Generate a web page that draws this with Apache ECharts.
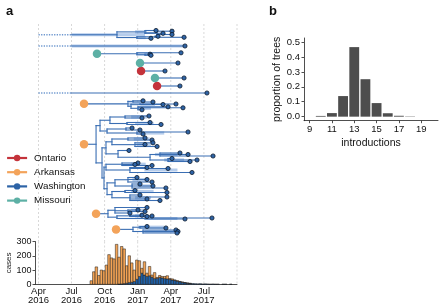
<!DOCTYPE html>
<html><head><meta charset="utf-8">
<script src="https://cdn.jsdelivr.net/npm/echarts@6/dist/echarts.min.js"></script>
<style>html,body{margin:0;padding:0;background:#fff}#c{width:440px;height:304px}</style>
</head><body><div id="c"></div><script>
// ===================== DATA =====================
// time ticks (decimal years) for panel a
const tickYears = [2016.25, 2016.5, 2016.75, 2017.0, 2017.25, 2017.5, 2017.75];
const tickLabels = ['Apr\n2016', 'Jul\n2016', 'Oct\n2016', 'Jan\n2017', 'Apr\n2017', 'Jul\n2017', ''];

// weekly case counts (first week starts on caseWeekStart)
const caseWeekStart = '2016-08-22';
const arkansasCases = [25,88,122,62,100,95,135,208,185,178,280,188,262,243,122,188,135,80,135,110,
  34,93,23,65,15,42,6,14,10,15,22,5,8,2,3,2,2,1,1,1,0,0,0,0,0,0,0,0,0,0,0,0,0,0,0,0,0,0];
const washingtonCases = [0,0,0,0,0,0,0,0,0,0,0,2,3,5,8,12,15,20,35,55,
  78,65,55,60,50,40,42,48,45,40,38,35,30,28,22,18,14,11,8,6,5,4,3,4,2,3,2,1,2,1,1,0,1,1,0,1,0,0];
const caseTicks = [0, 100, 200, 300];

// locations (legend order)
const locations = ['Ontario', 'Arkansas', 'Washington', 'Missouri'];

// phylogeny: tip = [date, row]; internal = [date, [children], hpdLow, hpdHigh]
// each clade: introduction date (intro) or unsampled ancestry (unsampled), optional stem band
const clades = [
  {loc:'Washington', unsampled:[2016.25, 2016.5], band:[2016.5, 2016.843], tree:
    [2016.843, [
      [2017.055, [[2017.138, 30.5], [2017.146, [[2017.259, 31.2], [2017.259, 34.5]]], [2017.191, 33.3]], 2016.98, 2017.07],
      [2016.994, [[2017.100, 38.3], [2017.130, [[2017.153, 36.3], [2017.350, 37.3]]]], 2016.99, 2017.06]
    ], 2016.843, 2017.055]},
  {loc:'Washington', unsampled:[2016.25, 2016.5], band:[2016.5, 2017.357], tree:[2017.357, 46]},
  {loc:'Missouri', intro:2016.692, tree:
    [2016.994, [[2017.327, 52.8], [2017.055, [[2017.093, 54.2], [2017.100, 55.3]]]], 2016.99, 2017.10]},
  {loc:'Missouri', intro:2017.017, tree:[2017.304, 63]},
  {loc:'Ontario', intro:2017.025, tree:[2017.206, 71]},
  {loc:'Missouri', intro:2017.130, tree:[2017.350, 78]},
  {loc:'Ontario', intro:2017.146, tree:[2017.319, 86]},
  {loc:'Washington', unsampled:[2016.25, 2016.5], tree:[2017.523, 93]},
  {loc:'Arkansas', intro:2016.594, tree:
    [2016.926, [
      [2016.964, [[2017.040, 100.8], [2017.115, 102]]],
      [2016.949, [
        [2017.017, [[2017.191, 104.5], [2017.289, 104]], 2017.02, 2017.13],
        [2017.002, [[2017.229, 106.8], [2017.342, 107.8], [2017.032, 109.8]], 2017.00, 2017.10]
      ]]
    ], 2016.93, 2017.02]},
  {loc:'Arkansas', intro:2016.594, tree:
    [2016.685, [
      [2016.715, [
        [2016.790, [
          [2016.904, [[2017.085, 116], [2017.032, 118]], 2016.95, 2017.07],
          [2016.919, [[2017.176, 124.5], [2017.093, 122.5]], 2016.98, 2017.12]
        ]],
        [2016.768, [
          [2016.911, [[2016.957, 128], [2017.017, 130]]],
          [2016.994, [[2017.380, 132], [2017.040, 134]], 2017.00, 2017.20]
        ]]
      ]],
      [2016.730, [
        [2016.760, [
          [2016.805, [
            [2016.926, [[2017.108, 140], [2017.055, 138]], 2016.97, 2017.09],
            [2016.979, [[2017.115, 142.8], [2017.146, 146.5], [2017.055, 144.5]], 2016.99, 2017.10]
          ]],
          [2016.851, [[2016.934, 150.5],
            [2017.093, [
              [2017.168, [[2017.319, 153], [2017.380, 154.5], [2017.569, 156]], 2017.13, 2017.30],
              [2017.229, [[2017.259, 158.5], [2017.448, 160], [2017.395, 161.5]], 2017.20, 2017.35]
            ]]
          ]]
        ]],
        [2016.745, [
          [2016.760, [
            [2016.881, [[2017.002, 163], [2016.979, 164.5], [2017.108, 165.5]], 2016.95, 2017.06],
            [2016.941, [[2017.070, 167.5], [2017.229, 168.5], [2017.410, 172.5]], 2017.05, 2017.30]
          ]],
          [2016.768, [
            [2016.828, [
              [2016.926, [[2016.994, 177.5], [2017.070, 179.5], [2017.108, 182]], 2016.96, 2017.08],
              [2016.957, [[2017.017, 184], [2017.115, 186], [2017.213, 188]], 2017.00, 2017.10]
            ]],
            [2016.805, [
              [2016.904, [[2016.979, 190.5], [2017.221, 192.5]], 2016.95, 2017.12],
              [2016.941, [[2017.017, 195], [2017.221, 197], [2017.070, 199], [2017.168, 200.5]], 2016.98, 2017.10]
            ]]
          ]]
        ]]
      ]]
    ]]},
  {loc:'Arkansas', intro:2016.685, tree:
    [2016.775, [
      [2016.828, [[2017.070, 207.5], [2016.926, [[2017.002, 210], [2017.055, 211.5]]], [2016.941, 213]], 2016.95, 2017.05],
      [2016.843, [
        [2016.941, [[2017.032, 215.2], [2017.070, 216.5], [2017.108, 216]], 2016.98, 2017.07],
        [2017.055, [[2017.357, 219], [2017.561, 218]], 2017.06, 2017.30]
      ]]
    ]]},
  {loc:'Arkansas', intro:2016.836, tree:
    [2016.964, [
      [2017.017, [[2017.070, 226.5], [2017.213, 228]], 2017.00, 2017.20],
      [2017.040, [[2017.289, 230], [2017.304, 231.5], [2017.297, 233]], 2017.05, 2017.30]
    ]]}
];

// panel b: distribution of the number of introductions
const introductionCounts = ['9','10','11','12','13','14','15','16','17','18','19','20'];
const proportionOfTrees = [0, 0.005, 0.024, 0.138, 0.466, 0.251, 0.091, 0.023, 0.006, 0.002, 0, 0];
const proportionTicks = [0, 0.1, 0.2, 0.3, 0.4, 0.5];

// ===================== STYLE =====================
const FONT = "'Liberation Sans', Arial, sans-serif";
const locColor = {Ontario:'#c4333b', Arkansas:'#f3a35a', Washington:'#2d63a6', Missouri:'#5db0a5'};
const branchColor = '#3a6eb3';
const bandColor = 'rgba(120,163,218,0.55)';
const gridColor = '#cfcfcf';
const axisColor = '#222';

// ===================== BUILD =====================
function decYear(d) {
  const y = d.getUTCFullYear();
  const s = Date.UTC(y, 0, 1), e = Date.UTC(y + 1, 0, 1);
  return y + (d.getTime() - s) / (e - s);
}
const branches = [], dotted = [], bands = [], tips = [];
const intros = {Ontario: [], Arkansas: [], Missouri: [], Washington: []};
function walk(node, parentT) {
  const t = node[0];
  let y;
  if (Array.isArray(node[1])) {
    const ys = node[1].map(k => walk(k, t));
    const lo = Math.min(...ys), hi = Math.max(...ys);
    y = (lo + hi) / 2;
    branches.push([t, lo, t, hi]);
    if (node.length > 3) bands.push([node[2], y, node[3], y]);
  } else {
    y = node[1];
    tips.push([t, y]);
  }
  if (parentT != null) branches.push([parentT, y, t, y]);
  return y;
}
clades.forEach(c => {
  const y = walk(c.tree, null);
  const t = c.tree[0];
  if (c.band) bands.push([c.band[0], y, c.band[1], y]);
  if (c.intro != null) {
    branches.push([c.intro, y, t, y]);
    intros[c.loc].push([c.intro, y]);
  } else if (c.unsampled) {
    dotted.push([c.unsampled[0], y, c.unsampled[1], y]);
    branches.push([c.unsampled[1], y, t, y]);
  }
});

const weekMs = 7 * 864e5;
const w0 = new Date(caseWeekStart + 'T00:00:00Z').getTime();
const washBars = [], arkBars = [];
washingtonCases.forEach((v, i) => {
  const a = decYear(new Date(w0 + i * weekMs)), b = decYear(new Date(w0 + (i + 1) * weekMs));
  const ark = arkansasCases[i];
  if (v > 0) washBars.push([a, b, 0, v]);
  if (ark > 0) arkBars.push([a, b, v, v + ark]);
});

function segSeries(data, style, z) {
  return {
    type:'custom', xAxisIndex:0, yAxisIndex:0, z, silent:true, clip:false,
    data, encode:{x:[0,2], y:[1,3]},
    renderItem(params, api) {
      const a = api.coord([api.value(0), api.value(1)]);
      const b = api.coord([api.value(2), api.value(3)]);
      return {type:'line', shape:{x1:a[0], y1:a[1], x2:b[0], y2:b[1]}, style};
    }
  };
}
function gridSeries(xi, yi) {
  return {
    type:'custom', xAxisIndex:xi, yAxisIndex:yi, z:0, silent:true, clip:false,
    data: tickYears.map(t => [t]), encode:{x:0},
    renderItem(params, api) {
      const cs = params.coordSys;
      const x = api.coord([api.value(0), api.value(0)])[0];
      return {type:'line', shape:{x1:x, y1:cs.y, x2:x, y2:cs.y + cs.height},
        style:{stroke:gridColor, lineWidth:0.8, lineDash:[2, 2]}};
    }
  };
}
function barSeries(data, color) {
  return {
    type:'custom', xAxisIndex:1, yAxisIndex:1, z:3, silent:true,
    data, encode:{x:[0,1], y:[2,3]},
    renderItem(params, api) {
      const p0 = api.coord([api.value(0), api.value(3)]);
      const p1 = api.coord([api.value(1), api.value(2)]);
      return {type:'rect', shape:{x:p0[0], y:p0[1], width:p1[0] - p0[0], height:p1[1] - p0[1]},
        style:{fill:color, stroke:'#1a1a1a', lineWidth:0.5}};
    }
  };
}
function locSeries(name, data, size, border) {
  return {
    name, type:'line', xAxisIndex:0, yAxisIndex:0, z:6, silent:true, animation:false,
    data, symbol:'circle', symbolSize:size, showSymbol:true,
    lineStyle:{opacity:0, width:2, color:locColor[name]},
    itemStyle:{color:locColor[name], borderColor:border ? '#0c1a2c' : locColor[name], borderWidth:border ? 0.8 : 0},
    emphasis:{disabled:true}
  };
}

const xMin = 2016.2236, xMax = 2017.75;
const labelStyle = {fontFamily:FONT, color:'#111'};

const option = {
  animation:false,
  backgroundColor:'#fff',
  textStyle:{fontFamily:FONT},
  title:[
    {text:'a', left:1, top:0, textStyle:{fontFamily:FONT, fontWeight:'bold', fontSize:13, color:'#111'}},
    {text:'b', left:264, top:0, textStyle:{fontFamily:FONT, fontWeight:'bold', fontSize:13, color:'#111'}}
  ],
  legend:{
    data:locations, orient:'vertical', left:6, top:153, itemWidth:20, itemHeight:8, itemGap:4.2,
    textStyle:{fontFamily:FONT, fontSize:9.8, color:'#111', padding:[0,0,0,2]},
    lineStyle:{opacity:1, width:2.2}, itemStyle:{borderWidth:0}, selectedMode:false, padding:0
  },
  grid:[
    {left:35, right:203, top:24, bottom:62.5, containLabel:false, outerBoundsMode:'none'},
    {left:35, right:203, top:241.5, bottom:19.7, containLabel:false, outerBoundsMode:'none'},
    {left:304, right:2, top:38, bottom:183.3, containLabel:false, outerBoundsMode:'none'}
  ],
  xAxis:[
    {type:'value', gridIndex:0, min:xMin, max:xMax, show:false},
    {type:'value', gridIndex:1, min:xMin, max:xMax,
      axisLine:{show:true, onZero:false, lineStyle:{color:axisColor, width:0.8}},
      axisTick:{show:false},
      splitLine:{show:false},
      axisLabel:{customValues:tickYears.slice(0, 6), formatter:v => tickLabels[tickYears.indexOf(v)],
        fontSize:9.5, lineHeight:9.5, margin:2, ...labelStyle, showMinLabel:true, showMaxLabel:true}},
    {type:'category', gridIndex:2, data:introductionCounts, boundaryGap:true,
      name:'introductions', nameLocation:'middle', nameGap:17,
      nameTextStyle:{fontFamily:FONT, fontSize:10.5, color:'#111'},
      axisLine:{show:true, onZero:false, lineStyle:{color:axisColor, width:0.8}},
      axisTick:{show:true, interval:1, alignWithLabel:true, length:2.5, lineStyle:{color:axisColor, width:0.8}},
      axisLabel:{interval:1, fontSize:9.5, margin:4, ...labelStyle},
      splitLine:{show:false}}
  ],
  yAxis:[
    {type:'value', gridIndex:0, min:24, max:241.5, inverse:true, show:false},
    {type:'value', gridIndex:1, min:0, max:300,
      name:'cases', nameLocation:'middle', nameGap:22,
      nameTextStyle:{fontFamily:FONT, fontSize:8, color:'#222'},
      axisLine:{show:true, lineStyle:{color:axisColor, width:0.8}},
      axisTick:{show:true, length:2.5, customValues:caseTicks, lineStyle:{color:axisColor, width:0.8}},
      axisLabel:{customValues:caseTicks, fontSize:9, margin:3.5, ...labelStyle, showMinLabel:true, showMaxLabel:true},
      splitLine:{show:false}},
    {type:'value', gridIndex:2, min:-0.027, max:0.527,
      name:'proportion of trees', nameLocation:'middle', nameGap:21,
      nameTextStyle:{fontFamily:FONT, fontSize:10.5, color:'#111'},
      axisLine:{show:true, lineStyle:{color:axisColor, width:0.8}},
      axisTick:{show:true, length:2.5, customValues:proportionTicks, lineStyle:{color:axisColor, width:0.8}},
      axisLabel:{customValues:proportionTicks, formatter:v => v.toFixed(1), fontSize:9.5, margin:4, ...labelStyle,
        showMinLabel:true, showMaxLabel:true},
      splitLine:{show:false}}
  ],
  series:[
    gridSeries(0, 0),
    gridSeries(1, 1),
    segSeries(bands, {stroke:bandColor, lineWidth:3.2}, 2),
    segSeries(dotted, {stroke:'#6f98cf', lineWidth:1.4, lineDash:[1.3, 1.3]}, 3),
    segSeries(branches, {stroke:branchColor, lineWidth:1.1, lineCap:'square'}, 3),
    locSeries('Washington', tips, 4.2, true),
    locSeries('Ontario', intros.Ontario, 8.5, false),
    locSeries('Arkansas', intros.Arkansas, 8.5, false),
    locSeries('Missouri', intros.Missouri, 8.5, false),
    barSeries(washBars, '#2063ad'),
    barSeries(arkBars, '#f4a455'),
    {type:'bar', xAxisIndex:2, yAxisIndex:2, data:proportionOfTrees, barCategoryGap:'12%',
      itemStyle:{color:'#4d4d4d'}, silent:true}
  ]
};
const chart = echarts.init(document.getElementById('c'), null, {renderer:'canvas'});
chart.setOption(option);
</script></body></html>
